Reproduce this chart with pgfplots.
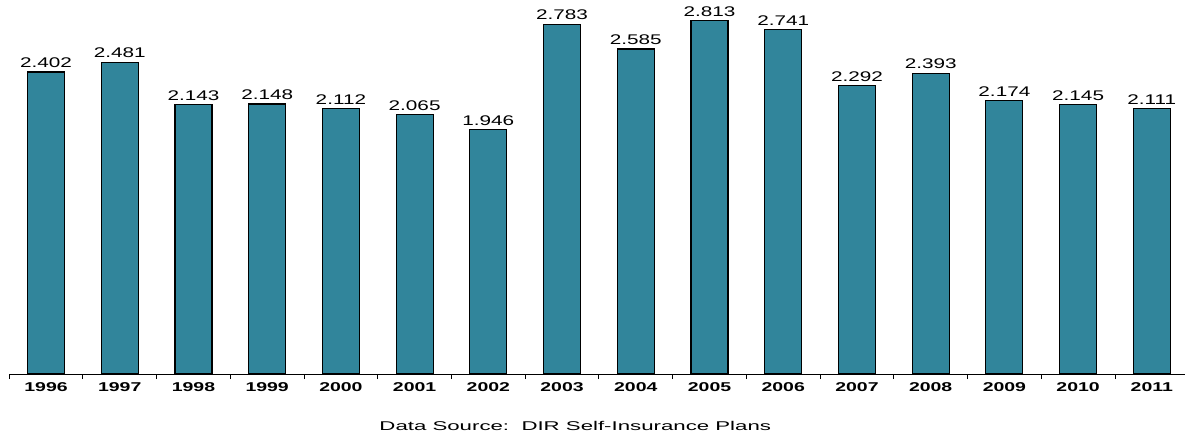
\documentclass[border=0pt]{standalone}
\usepackage{fontspec}
\setmainfont{Liberation Sans}
\newfontfamily\valfont[FakeStretch=1.48]{Liberation Sans}
\newfontfamily\yearfont[FakeStretch=1.52]{Liberation Sans Bold}
\newfontfamily\srcfont[FakeStretch=1.75]{Liberation Sans}
\usepackage{pgfplots}
\pgfplotsset{compat=1.18}
\definecolor{barteal}{RGB}{49,133,155}
\begin{document}
\begin{tikzpicture}
\begin{axis}[
  scale only axis,
  width=1176pt, height=374pt,
  xmin=-0.502, xmax=15.45,
  ymin=0, ymax=2.975,
  axis x line*=bottom,
  axis y line=none,
  every outer x axis line/.append style={-, line width=0.9pt},
  xtick={0,...,15},
  xticklabels={1996,1997,1998,1999,2000,2001,2002,2003,2004,2005,2006,2007,2008,2009,2010,2011},
  major x tick style={draw=none},
  minor xtick={-0.5,0.5,...,15.5},
  minor tick length=5pt,
  tick align=outside,
  x tick style={line width=0.9pt, black},
  x tick label style={font=\fontsize{12.8}{15}\yearfont, yshift=-1pt},
  /pgf/number format/assume math mode=true,
  nodes near coords={\pgfmathprintnumber[fixed,fixed zerofill,precision=3]{\pgfplotspointmeta}},
  nodes near coords style={font=\fontsize{14}{16}\valfont, anchor=south, inner sep=2pt, yshift=1.5pt},
  clip=false,
]
\addplot[ybar, bar width=37pt, fill=barteal, draw=black, line width=1.1pt] coordinates {
(0,2.402) (1,2.481) (2,2.143) (3,2.148) (4,2.112) (5,2.065) (6,1.946) (7,2.783)
(8,2.585) (9,2.813) (10,2.741) (11,2.292) (12,2.393) (13,2.174) (14,2.145) (15,2.111)};
\node[font=\fontsize{12.7}{15}\srcfont] at (rel axis cs:0.4815,0) [yshift=-52pt] {Data Source:\ \ DIR Self-Insurance Plans};
\end{axis}
\pgfresetboundingbox
\path (-9pt,-59pt) rectangle (1176pt,374pt);
\end{tikzpicture}
\end{document}
